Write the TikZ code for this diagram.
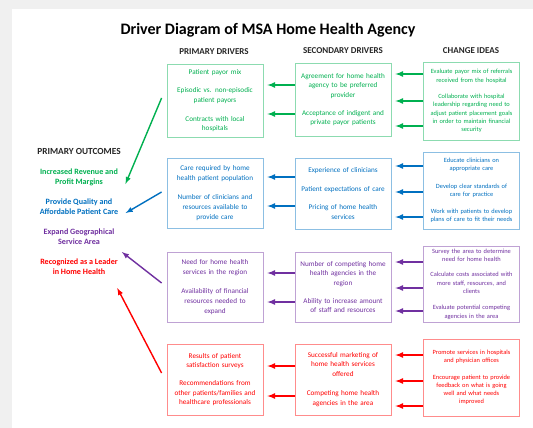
\documentclass[tikz,border=0pt]{standalone}
\usepackage{fontspec}
\setmainfont{Carlito}
\definecolor{drvGreen}{HTML}{00B050}
\definecolor{drvBlue}{HTML}{0070C0}
\definecolor{drvPurple}{HTML}{7030A0}
\definecolor{drvRed}{HTML}{FF0000}
\definecolor{pageGray}{HTML}{F0F0F0}
\definecolor{headGray}{HTML}{262626}

\begin{document}
\begin{tikzpicture}[x=1pt,y=-1pt,
        drvBox/.style = {draw=#1!45,line width=0.8pt,text=#1,align=center,
            inner xsep=3pt,inner ysep=2pt,text width=90pt,font=\fontsize{7.2}{9.6}\selectfont},
        ideaBox/.style = {drvBox=#1,font=\fontsize{6.4}{8.3}\selectfont},
        outNode/.style = {text=#1,align=center,font=\bfseries\fontsize{8.1}{10}\selectfont},
        headNode/.style = {text=headGray,font=\bfseries\fontsize{9}{10}\selectfont},
        smallArrow/.style = {draw=#1,line width=1.6pt,-latex,shorten >=4pt},
        bigArrow/.style = {draw=#1,line width=1.4pt,-latex}
        ]
        % page
        \fill[pageGray] (0,0) rectangle (533,428);
        \fill[white] (12,9) rectangle (533,428);

        % titles
        \node[text=black,font=\bfseries\fontsize{16}{18}\selectfont] (title) at (268,30) {Driver Diagram of MSA Home Health Agency};
        \node[headNode] (hPrim) at (214,52) {PRIMARY DRIVERS};
        \node[headNode] (hSec) at (343,51) {SECONDARY DRIVERS};
        \node[headNode] (hIdea) at (471,51) {CHANGE IDEAS};

        % outcomes
        \node[headNode,font=\bfseries\fontsize{9.3}{10}\selectfont] (hOut) at (79,151) {PRIMARY OUTCOMES};
        \node[outNode=drvGreen] (o1) at (79,177) {Increased Revenue and\\Profit Margins};
        \node[outNode=drvBlue] (o2) at (79,207) {Provide Quality and\\Affordable Patient Care};
        \node[outNode=drvPurple] (o3) at (79,237) {Expand Geographical\\Service Area};
        \node[outNode=drvRed] (o4) at (79,267) {Recognized as a Leader\\in Home Health};

        % row 1
        \node[drvBox=drvGreen,minimum height=73pt] (p1) at (215,100.5) {Patient payor mix\\[9pt]
            Episodic vs. non-episodic\\patient payors\\[9pt]Contracts with local\\hospitals};
        \node[drvBox=drvGreen,minimum height=73pt] (s1) at (343,99.5) {Agreement for home health\\
            agency to be preferred\\provider\\[8pt]Acceptance of indigent and\\private payor patients};
        \node[ideaBox=drvGreen,minimum height=78pt] (c1) at (471.5,101) {Evaluate payor mix of referrals\\
            received from the hospital\\[8pt]Collaborate with hospital\\leadership regarding need to\\
            adjust patient placement goals\\in order to maintain financial\\security};

        % row 2
        \node[drvBox=drvBlue,minimum height=70pt] (p2) at (215,193) {Care required by home\\
            health patient population\\[10pt]Number of clinicians and\\resources available to\\provide care};
        \node[drvBox=drvBlue,minimum height=71pt] (s2) at (343,193.5) {Experience of clinicians\\[9pt]
            Patient expectations of care\\[9pt]Pricing of home health\\services};
        \node[ideaBox=drvBlue,minimum height=77pt] (c2) at (471.5,190.5) {Educate clinicians on\\
            appropriate care\\[9pt]Develop clear standards of\\care for practice\\[9pt]
            Work with patients to develop\\plans of care to fit their needs};

        % row 3
        \node[drvBox=drvPurple,minimum height=70pt] (p3) at (215,287) {Need for home health\\
            services in the region\\[10pt]Availability of financial\\resources needed to\\expand};
        \node[drvBox=drvPurple,minimum height=70pt] (s3) at (343,287) {Number of competing home\\
            health agencies in the\\region\\[8pt]Ability to increase amount\\of staff and resources};
        \node[ideaBox=drvPurple,minimum height=76pt] (c3) at (471.5,284) {Survey the area to determine\\
            need for home health\\[7pt]Calculate costs associated with\\more staff, resources, and\\
            clients\\[8pt]Evaluate potential competing\\agencies in the area};

        % row 4
        \node[drvBox=drvRed,minimum height=71pt] (p4) at (215,379.5) {Results of patient\\
            satisfaction surveys\\[8pt]Recommendations from\\other patients/families and\\healthcare professionals};
        \node[drvBox=drvRed,minimum height=71pt] (s4) at (343,379.5) {Successful marketing of\\
            home health services\\offered\\[10pt]Competing home health\\agencies in the area};
        \node[ideaBox=drvRed,minimum height=77pt] (c4) at (471.5,377.5) {Promote services in hospitals\\
            and physician offices\\[8pt]Encourage patient to provide\\feedback on what is going\\
            well and what needs\\improved};

        % arrows into the primary drivers
        \draw[smallArrow=drvGreen] (s1.west |- 0,85) -- (p1.east |- 0,85);
        \draw[smallArrow=drvGreen] (s1.west |- 0,114) -- (p1.east |- 0,114);
        \draw[smallArrow=drvBlue] (s2.west |- 0,177) -- (p2.east |- 0,177);
        \draw[smallArrow=drvBlue] (s2.west |- 0,206) -- (p2.east |- 0,206);
        \draw[smallArrow=drvPurple] (s3.west |- 0,273) -- (p3.east |- 0,273);
        \draw[smallArrow=drvPurple] (s3.west |- 0,302) -- (p3.east |- 0,302);
        \draw[smallArrow=drvRed] (s4.west |- 0,366) -- (p4.east |- 0,366);
        \draw[smallArrow=drvRed] (s4.west |- 0,396) -- (p4.east |- 0,396);

        % arrows into the secondary drivers
        \foreach \yy in {74,101,126} {\draw[smallArrow=drvGreen] (c1.west |- 0,\yy) -- (s1.east |- 0,\yy);}
        \foreach \yy in {166,192,217} {\draw[smallArrow=drvBlue] (c2.west |- 0,\yy) -- (s2.east |- 0,\yy);}
        \foreach \yy in {262,288,311} {\draw[smallArrow=drvPurple] (c3.west |- 0,\yy) -- (s3.east |- 0,\yy);}
        \foreach \yy in {355,381,406} {\draw[smallArrow=drvRed] (c4.west |- 0,\yy) -- (s4.east |- 0,\yy);}

        % arrows into the outcomes
        \draw[bigArrow=drvGreen] ([xshift=-5pt]p1.west |- 0,98) -- ([xshift=4pt]o1.east |- 0,184);
        \draw[bigArrow=drvBlue] ([xshift=-5pt]p2.west |- 0,192) -- ([xshift=4pt]o2.east |- 0,213);
        \draw[bigArrow=drvPurple] ([xshift=-5pt]p3.west |- 0,283) -- ([xshift=4pt]o3.east |- 0,252);
        \draw[bigArrow=drvRed] ([xshift=-5pt]p4.west |- 0,373) -- ([xshift=-4pt]o4.east |- 0,288);
\end{tikzpicture}
\end{document}
